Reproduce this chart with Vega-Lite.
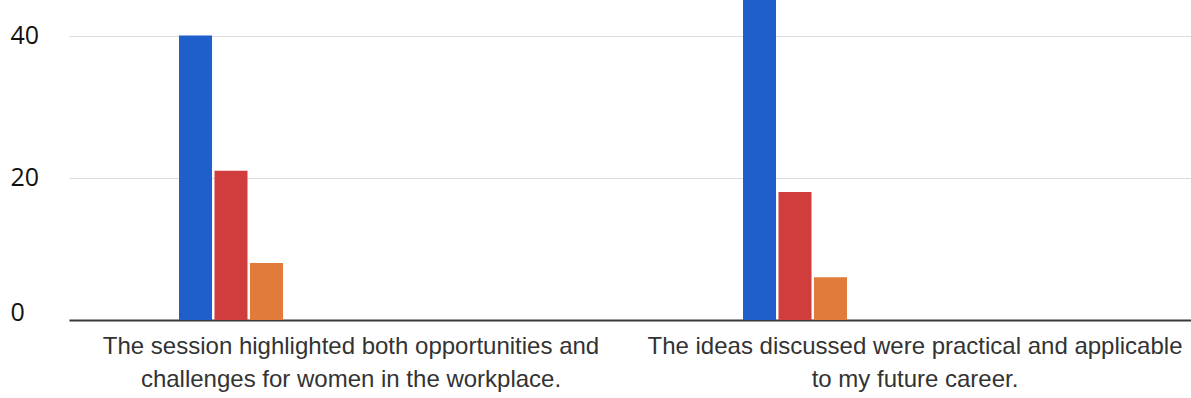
{
  "$schema": "https://vega.github.io/schema/vega-lite/v6.json",
  "autosize": "none",
  "width": 1128,
  "height": 320,
  "padding": {"left": 69, "top": 0, "right": 0, "bottom": 78},
  "background": "white",
  "config": {"view": {"stroke": null}},
  "data": {
    "values": [
      {"question": "The session highlighted both opportunities and challenges for women in the workplace.", "response": "Strongly Agree", "count": 40},
      {"question": "The session highlighted both opportunities and challenges for women in the workplace.", "response": "Agree", "count": 21},
      {"question": "The session highlighted both opportunities and challenges for women in the workplace.", "response": "Neutral", "count": 8},
      {"question": "The ideas discussed were practical and applicable to my future career.", "response": "Strongly Agree", "count": 45},
      {"question": "The ideas discussed were practical and applicable to my future career.", "response": "Agree", "count": 18},
      {"question": "The ideas discussed were practical and applicable to my future career.", "response": "Neutral", "count": 6}
    ]
  },
  "mark": {"type": "bar"},
  "encoding": {
    "x": {
      "field": "question",
      "type": "nominal",
      "sort": null,
      "scale": {"paddingInner": 0, "paddingOuter": 0},
      "axis": {
        "title": null,
        "ticks": false,
        "domainColor": "#3a3a3a",
        "domainWidth": 2,
        "labelAngle": 0,
        "labelFont": "Liberation Sans",
        "labelFontSize": 24,
        "labelColor": "#333333",
        "labelLimit": 0,
        "labelPadding": 14,
        "labelLineHeight": 33,
        "labelExpr": "datum.label == 'The session highlighted both opportunities and challenges for women in the workplace.' ? ['The session highlighted both opportunities and', 'challenges for women in the workplace.'] : ['The ideas discussed were practical and applicable', 'to my future career.']"
      }
    },
    "xOffset": {
      "field": "response",
      "type": "nominal",
      "sort": ["Strongly Agree", "Agree", "Neutral"],
      "scale": {"paddingInner": 0.07, "paddingOuter": 0, "range": [110, 214]}
    },
    "y": {
      "field": "count",
      "type": "quantitative",
      "scale": {"domain": [0, 45], "nice": false},
      "axis": {
        "title": null,
        "values": [0, 20, 40],
        "ticks": false,
        "domain": false,
        "gridColor": "#dcdcdc",
        "gridWidth": 1,
        "labelAlign": "left",
        "labelPadding": 59,
        "labelFont": "Open Sans",
        "labelFontSize": 25,
        "labelColor": "#111111",
        "labelBaseline": {"condition": {"test": "datum.value == 0", "value": "alphabetic"}, "value": "middle"}
      }
    },
    "color": {
      "field": "response",
      "type": "nominal",
      "sort": ["Strongly Agree", "Agree", "Neutral"],
      "scale": {"domain": ["Strongly Agree", "Agree", "Neutral"], "range": ["#1f5fcc", "#d13c3c", "#e07b39"]},
      "legend": null
    }
  }
}
